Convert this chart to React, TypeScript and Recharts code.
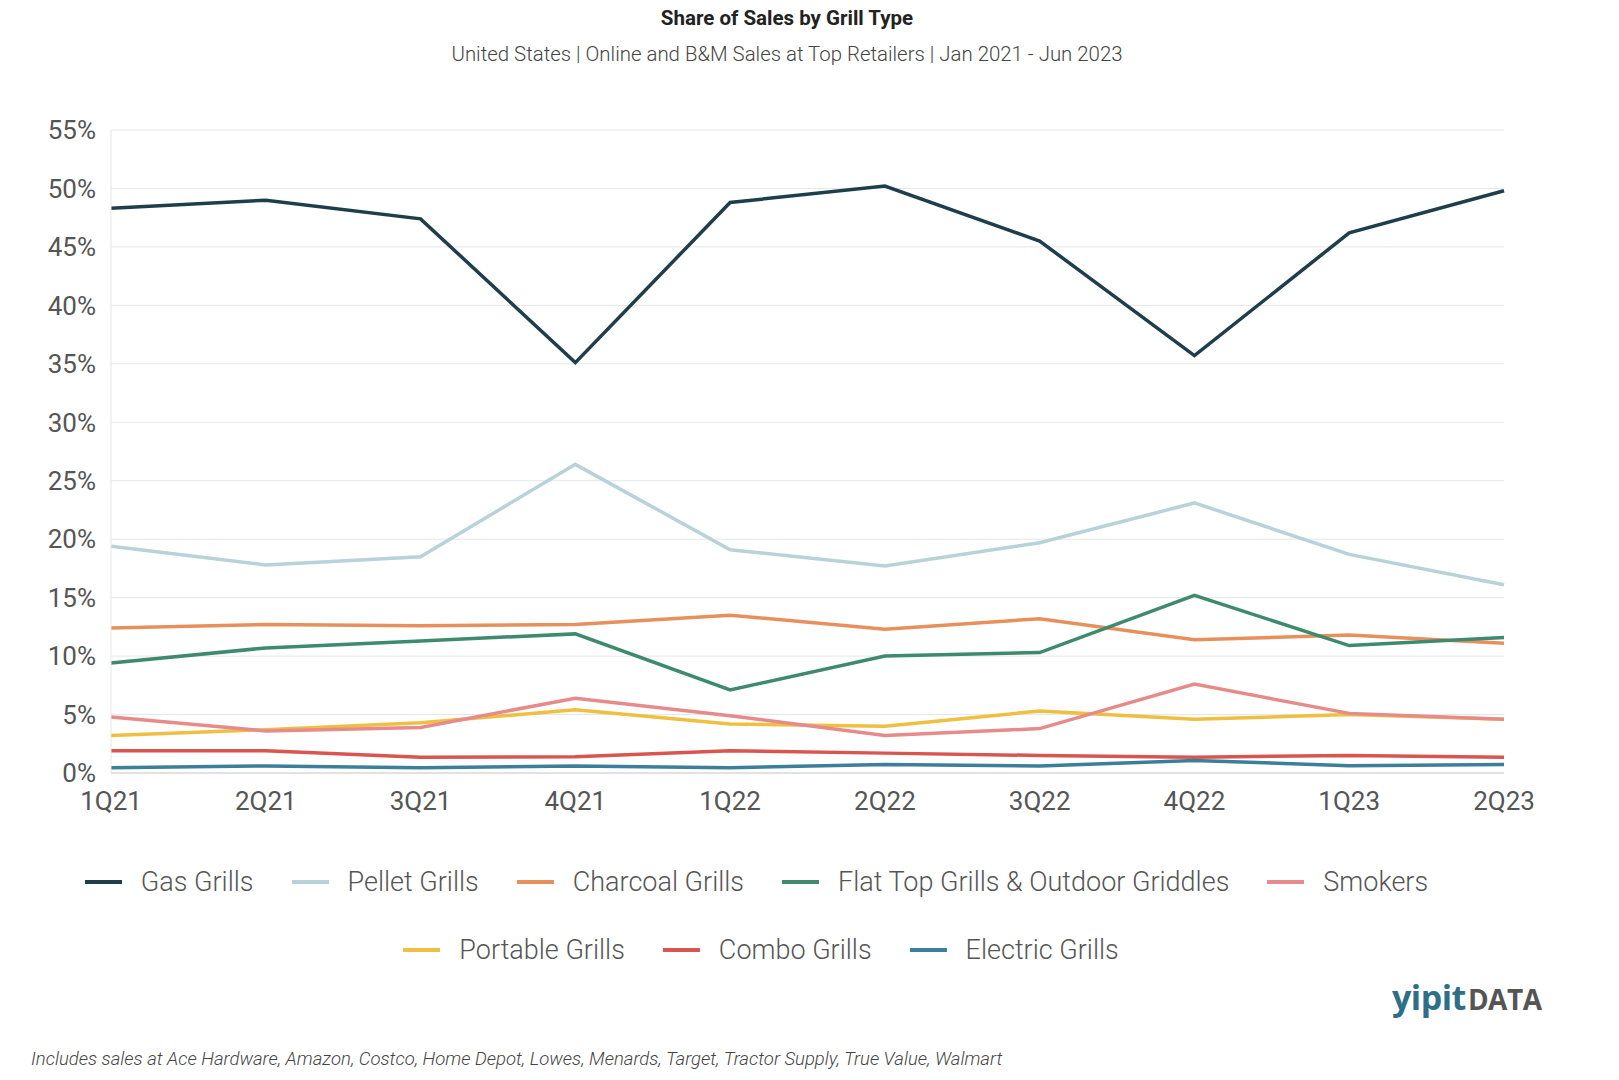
import React from "react";
import { LineChart, Line, XAxis, YAxis, CartesianGrid } from "recharts";

const quarters = ["1Q21", "2Q21", "3Q21", "4Q21", "1Q22", "2Q22", "3Q22", "4Q22", "1Q23", "2Q23"];

const gasGrills = [48.3, 49.0, 47.4, 35.1, 48.8, 50.2, 45.5, 35.7, 46.2, 49.8];
const pelletGrills = [19.4, 17.8, 18.5, 26.4, 19.1, 17.7, 19.7, 23.1, 18.7, 16.1];
const charcoalGrills = [12.4, 12.7, 12.6, 12.7, 13.5, 12.3, 13.2, 11.4, 11.8, 11.1];
const flatTopGrills = [9.4, 10.7, 11.3, 11.9, 7.1, 10.0, 10.3, 15.2, 10.9, 11.6];
const smokers = [4.8, 3.6, 3.9, 6.4, 4.9, 3.2, 3.8, 7.6, 5.1, 4.6];
const portableGrills = [3.2, 3.7, 4.3, 5.4, 4.2, 4.0, 5.3, 4.6, 5.0, 4.6];
const comboGrills = [1.9, 1.9, 1.35, 1.4, 1.9, 1.7, 1.5, 1.35, 1.5, 1.35];
const electricGrills = [0.45, 0.6, 0.45, 0.6, 0.45, 0.72, 0.6, 1.07, 0.63, 0.72];

const yTicks = [0, 5, 10, 15, 20, 25, 30, 35, 40, 45, 50, 55];

const series = [
  { key: "gas", name: "Gas Grills", values: gasGrills, color: "#1f3e4c" },
  { key: "pellet", name: "Pellet Grills", values: pelletGrills, color: "#b8d2da" },
  { key: "charcoal", name: "Charcoal Grills", values: charcoalGrills, color: "#e8905c" },
  { key: "flat", name: "Flat Top Grills & Outdoor Griddles", values: flatTopGrills, color: "#3e8a6d" },
  { key: "smokers", name: "Smokers", values: smokers, color: "#e68b8a" },
  { key: "portable", name: "Portable Grills", values: portableGrills, color: "#eebf40" },
  { key: "combo", name: "Combo Grills", values: comboGrills, color: "#d95550" },
  { key: "electric", name: "Electric Grills", values: electricGrills, color: "#3c7f9b" },
];

// draw order: lower lines last so they sit on top like the original
const drawOrder = ["gas", "pellet", "charcoal", "flat", "portable", "smokers", "combo", "electric"];

const data = quarters.map((q, i) => {
  const row: Record<string, string | number> = { quarter: q };
  series.forEach((s) => {
    row[s.key] = s.values[i];
  });
  return row;
});

const font = "Roboto, 'Noto Sans', sans-serif";

const LegendItem = ({ name, color }: { name: string; color: string }) => (
  <div style={{ display: "flex", alignItems: "center", margin: "0 19px" }}>
    <div style={{ width: 37, height: 4, background: color, marginRight: 19 }} />
    <span style={{ fontSize: 27, color: "#555", fontWeight: 300 }}>{name}</span>
  </div>
);

const App = () => {
  const row1 = series.slice(0, 5);
  const row2 = series.slice(5);
  return (
    <div
      style={{
        position: "absolute",
        left: 0,
        top: 0,
        width: 1619,
        height: 1080,
        background: "#fff",
        fontFamily: font,
        overflow: "hidden",
      }}
    >
      <div
        style={{
          position: "absolute",
          top: 6,
          left: 0,
          width: 1574,
          textAlign: "center",
          fontSize: 20.5,
          fontWeight: 700,
          color: "#222",
        }}
      >
        Share of Sales by Grill Type
      </div>
      <div
        style={{
          position: "absolute",
          top: 42,
          left: 0,
          width: 1574,
          textAlign: "center",
          fontSize: 20.4,
          fontWeight: 300,
          color: "#444",
        }}
      >
        United States | Online and B&amp;M Sales at Top Retailers | Jan 2021 - Jun 2023
      </div>

      <div style={{ position: "absolute", left: 0, top: 0 }}>
        <LineChart
          width={1619}
          height={850}
          data={data}
          margin={{ top: 130, right: 115, left: 0, bottom: 17 }}
        >
          <CartesianGrid vertical={false} stroke="#e6e6e6" />
          <XAxis
            dataKey="quarter"
            axisLine={{ stroke: "#d0d0d0" }}
            tickLine={false}
            tick={{ fontSize: 26, fill: "#555", fontFamily: font }}
            tickMargin={13}
            height={60}
            padding={{ left: 0, right: 0 }}
          />
          <YAxis
            domain={[0, 55]}
            ticks={yTicks}
            width={111}
            axisLine={{ stroke: "#e6e6e6" }}
            tickLine={false}
            tickFormatter={(v) => `${v}%`}
            tick={{ fontSize: 26, fill: "#555", fontFamily: font }}
            tickMargin={9}
          />
          {drawOrder.map((k) => {
            const s = series.find((x) => x.key === k)!;
            return (
              <Line
                key={s.key}
                type="linear"
                dataKey={s.key}
                name={s.name}
                stroke={s.color}
                strokeWidth={3.5}
                dot={false}
                isAnimationActive={false}
              />
            );
          })}
        </LineChart>
      </div>

      <div
        style={{
          position: "absolute",
          top: 866,
          left: 0,
          width: 1513,
          display: "flex",
          justifyContent: "center",
        }}
      >
        {row1.map((s) => (
          <LegendItem key={s.key} name={s.name} color={s.color} />
        ))}
      </div>
      <div
        style={{
          position: "absolute",
          top: 934,
          left: 0,
          width: 1522,
          display: "flex",
          justifyContent: "center",
        }}
      >
        {row2.map((s) => (
          <LegendItem key={s.key} name={s.name} color={s.color} />
        ))}
      </div>

      <div
        style={{
          position: "absolute",
          left: 1392,
          top: 974,
          fontFamily: "'Open Sans', Roboto, sans-serif",
          fontWeight: 700,
          letterSpacing: -0.5,
        }}
      >
        <span style={{ fontSize: 34, color: "#2e6f87" }}>yipit</span>
        <span style={{ fontSize: 28, color: "#555", marginLeft: 2 }}>DATA</span>
      </div>

      <div
        style={{
          position: "absolute",
          left: 31,
          top: 1048,
          fontSize: 18.5,
          fontStyle: "italic",
          fontWeight: 300,
          color: "#444",
        }}
      >
        Includes sales at Ace Hardware, Amazon, Costco, Home Depot, Lowes, Menards, Target, Tractor Supply, True Value, Walmart
      </div>
    </div>
  );
};

export default App;
